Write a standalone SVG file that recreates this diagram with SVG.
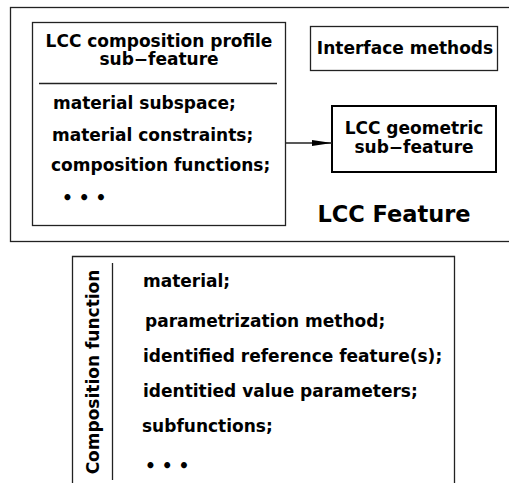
<svg xmlns="http://www.w3.org/2000/svg" width="509" height="483" viewBox="0 0 509 483">
<style>
text{font-family:"DejaVu Sans","Liberation Sans",sans-serif;font-weight:bold;fill:#000;font-size:17px}
.box{fill:none;stroke:#222;stroke-width:1.3}
.thick{fill:none;stroke:#000;stroke-width:2}
.c{text-anchor:middle}
</style>
<defs>
<marker id="arr" markerWidth="20" markerHeight="8" refX="20" refY="4" orient="auto" markerUnits="userSpaceOnUse">
<path d="M0,1 L20,4 L0,7 Z" fill="#000"/>
</marker>
</defs>
<rect width="509" height="483" fill="#fff"/>
<g id="lcc-feature">
<rect class="box" x="10.5" y="7.5" width="500" height="234"/>
<text x="394" y="222" class="c" style="font-size:22.5px">LCC Feature</text>
</g>
<g id="composition-profile">
<rect class="box" x="32.5" y="22.5" width="253" height="203"/>
<text x="159" y="47" class="c">LCC composition profile</text>
<text x="159" y="65" class="c">sub−feature</text>
<line x1="39" y1="83.5" x2="277" y2="83.5" stroke="#222" stroke-width="1.3"/>
<text x="53" y="109">material subspace;</text>
<text x="52" y="141">material constraints;</text>
<text x="51" y="171">composition functions;</text>
<text x="62" y="204">• • •</text>
</g>
<g id="interface-methods">
<rect class="box" x="310.5" y="26.5" width="187" height="44"/>
<text x="405" y="54" class="c">Interface methods</text>
</g>
<g id="geometric">
<rect class="thick" x="332" y="106" width="164" height="66"/>
<text x="414" y="134" class="c">LCC geometric</text>
<text x="414" y="153" class="c">sub−feature</text>
</g>
<g id="connectors">
<line x1="286" y1="143" x2="332" y2="143" stroke="#222" stroke-width="1.3" marker-end="url(#arr)"/>
</g>
<g id="composition-function">
<path class="box" d="M72.5,490 V256.5 H454.5 V490"/>
<line x1="112.5" y1="263" x2="112.5" y2="480" stroke="#222" stroke-width="1.3"/>
<text transform="translate(99,372) rotate(-90)" class="c">Composition function</text>
<text x="143" y="287">material;</text>
<text x="145" y="327">parametrization method;</text>
<text x="143" y="362">identified reference feature(s);</text>
<text x="143" y="397">identitied value parameters;</text>
<text x="142" y="432">subfunctions;</text>
<text x="145" y="472">• • •</text>
</g>
</svg>
